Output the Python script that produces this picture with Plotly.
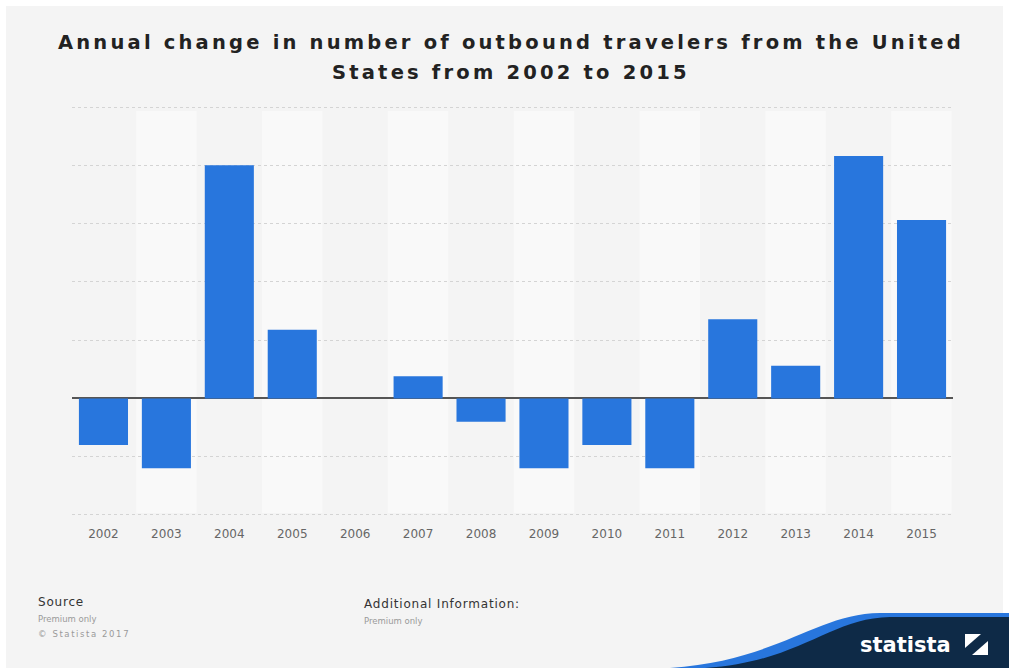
import plotly.graph_objects as go

years = ["2002", "2003", "2004", "2005", "2006", "2007", "2008",
         "2009", "2010", "2011", "2012", "2013", "2014", "2015"]
change_pct = [-4.0, -6.0, 20.0, 5.9, 0.0, 1.9, -2.0,
              -6.0, -4.0, -6.0, 6.8, 2.8, 20.8, 15.3]
title_lines = ["Annual change in number of outbound travelers from the United",
               "States from 2002 to 2015"]

W, H = 1009, 668
L, R, T, B = 72, 953, 104, 518
Y_RANGE = [-10.26, 25.26]

def px(x):
    return (x - L) / (R - L)

def py(y):
    return (B - y) / (B - T)

fig = go.Figure()
fig.add_trace(go.Bar(x=years, y=change_pct, marker=dict(color="#2876dd", line=dict(width=0)),
                     hoverinfo="x+y"))

shapes = []
shapes.append(dict(type="rect", xref="paper", yref="paper", x0=px(6), x1=px(1003), y0=py(668), y1=py(6),
                   fillcolor="#f4f4f4", line=dict(width=0), layer="below"))
for i, yr in enumerate(years):
    if i % 2 == 1:
        shapes.append(dict(type="rect", xref="x", yref="paper", x0=i - 0.48, x1=i + 0.48,
                           y0=py(513), y1=py(111), fillcolor="#f9f9f9", line=dict(width=0), layer="below"))

blue_path = (f"M {px(670)},{py(668)} C {px(780)},{py(660)} {px(815)},{py(614)} {px(880)},{py(613)} "
             f"L {px(1009)},{py(613)} L {px(1009)},{py(668)} Z")
navy_path = (f"M {px(705)},{py(668)} C {px(800)},{py(662)} {px(830)},{py(618)} {px(890)},{py(617)} "
             f"L {px(1009)},{py(617)} L {px(1009)},{py(668)} Z")
shapes.append(dict(type="path", xref="paper", yref="paper", path=blue_path,
                   fillcolor="#2876dd", line=dict(width=0), layer="above"))
shapes.append(dict(type="path", xref="paper", yref="paper", path=navy_path,
                   fillcolor="#0e2a47", line=dict(width=0), layer="above"))
shapes.append(dict(type="rect", xref="paper", yref="paper", x0=px(965), x1=px(988), y0=py(655), y1=py(634),
                   fillcolor="#ffffff", line=dict(width=0), layer="above"))
shapes.append(dict(type="path", xref="paper", yref="paper",
                   path=f"M {px(965)},{py(648)} L {px(981)},{py(634)} L {px(988)},{py(634)} L {px(988)},{py(641)} L {px(972)},{py(655)} L {px(965)},{py(655)} Z",
                   fillcolor="#0e2a47", line=dict(width=0), layer="above"))

annotations = []
for i, line in enumerate(title_lines):
    annotations.append(dict(text=f"<b><span style='letter-spacing:3.2px'>{line}</span></b>",
                            xref="paper", yref="paper", x=px(511), y=py(42 + 31 * i),
                            xanchor="center", yanchor="middle", showarrow=False,
                            font=dict(family="DejaVu Sans", size=19.5, color="#222222")))
annotations += [
    dict(text="<span style='letter-spacing:0.8px'>Source</span>", x=px(36), y=py(602),
         font=dict(family="DejaVu Sans", size=12, color="#333333")),
    dict(text="Premium only", x=px(36), y=py(619), font=dict(family="DejaVu Sans", size=8.5, color="#9a9a9a")),
    dict(text="<span style='letter-spacing:1.6px'>© Statista 2017</span>", x=px(36), y=py(634),
         font=dict(family="DejaVu Sans", size=8.5, color="#9a9a9a")),
    dict(text="<span style='letter-spacing:0.8px'>Additional Information:</span>", x=px(362), y=py(604),
         font=dict(family="DejaVu Sans", size=12, color="#333333")),
    dict(text="Premium only", x=px(362), y=py(621), font=dict(family="DejaVu Sans", size=8.5, color="#9a9a9a")),
    dict(text="<b>statista</b>", x=px(858), y=py(645), font=dict(family="DejaVu Sans", size=21, color="#ffffff")),
]
for a in annotations[len(title_lines):]:
    a.update(xref="paper", yref="paper", xanchor="left", yanchor="middle", showarrow=False)

fig.update_layout(
    width=W, height=H,
    margin=dict(l=L, r=W - R, t=T, b=H - B, pad=0),
    paper_bgcolor="#ffffff",
    plot_bgcolor="rgba(0,0,0,0)",
    bargap=0.22,
    showlegend=False,
    shapes=shapes,
    annotations=annotations,
    xaxis=dict(type="category", showgrid=False, showline=False, zeroline=False, ticks="",
               tickfont=dict(family="DejaVu Sans", size=12, color="#666666"), ticklabelstandoff=7,
               fixedrange=True),
    yaxis=dict(range=Y_RANGE, dtick=5, tick0=0, showticklabels=False, showgrid=True,
               gridcolor="#d4d4d4", griddash="dot", gridwidth=1,
               zeroline=True, zerolinecolor="#555555", zerolinewidth=1.5, showline=False,
               fixedrange=True),
)

fig.write_html("out.html", config={"displayModeBar": False},
               post_script="document.body.style.margin='0';document.body.style.overflow='hidden';")
